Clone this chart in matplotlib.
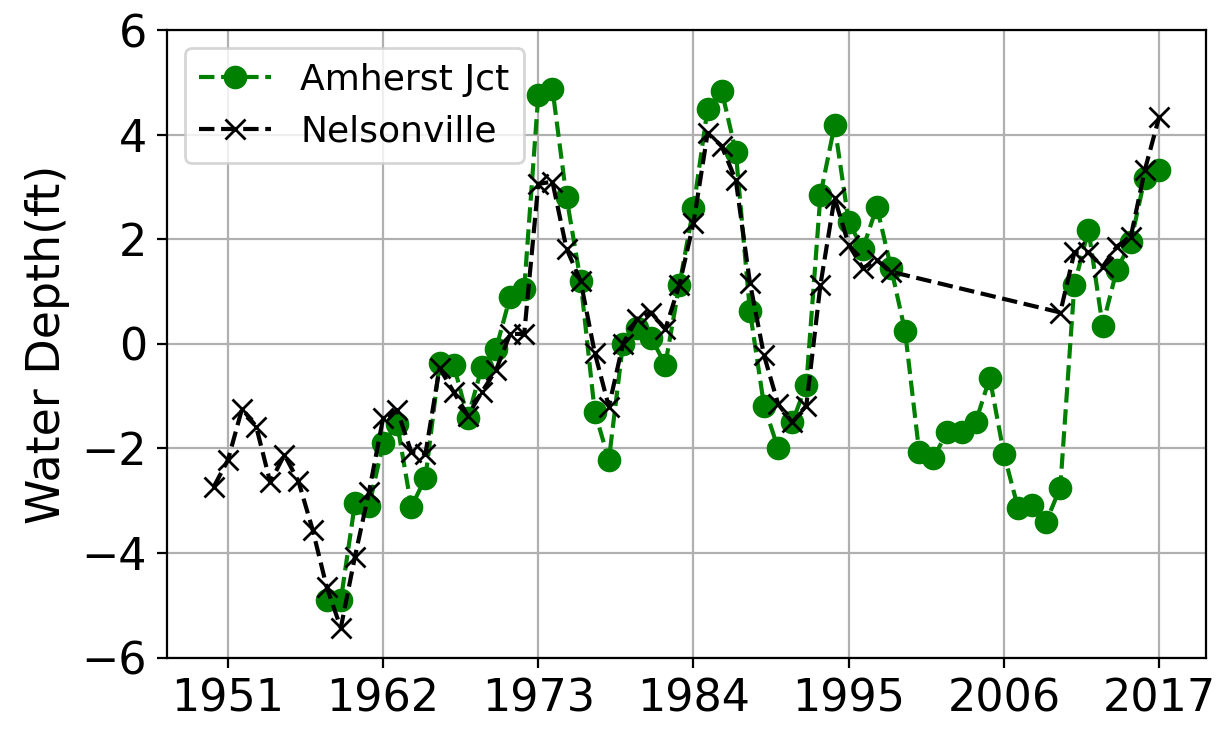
import numpy as np
import matplotlib
matplotlib.use('Agg')
import matplotlib.pyplot as plt

# Amherst Jct water depth (ft), 1958-2017
amherst_years = list(range(1958, 2018))
amherst_depth = [-4.9, -4.9, -3.05, -3.1, -1.9, -1.53, -3.12, -2.56, -0.37, -0.4,
                 -1.42, -0.44, -0.1, 0.9, 1.05, 4.76, 4.88, 2.8, 1.2, -1.3,
                 -2.22, 0.0, 0.3, 0.12, -0.4, 1.13, 2.6, 4.5, 4.84, 3.67,
                 0.63, -1.18, -2.0, -1.5, -0.78, 2.85, 4.18, 2.33, 1.82, 2.62,
                 1.46, 0.24, -2.07, -2.18, -1.68, -1.68, -1.5, -0.65, -2.1, -3.13,
                 -3.08, -3.4, -2.75, 1.13, 2.18, 0.35, 1.41, 1.95, 3.18, 3.33]

# Nelsonville water depth (ft), 1950-1998 and 2010-2017
nelson_years = list(range(1950, 1999)) + list(range(2010, 2018))
nelson_depth = [-2.73, -2.22, -1.24, -1.58, -2.65, -2.12, -2.63, -3.55, -4.65, -5.43,
                -4.07, -2.83, -1.42, -1.27, -2.07, -2.1, -0.46, -0.92, -1.37, -0.92,
                -0.5, 0.19, 0.19, 3.06, 3.1, 1.82, 1.2, -0.17, -1.2, 0.0,
                0.48, 0.6, 0.28, 1.13, 2.31, 4.03, 3.78, 3.13, 1.17, -0.22,
                -1.15, -1.5, -1.18, 1.13, 2.79, 1.9, 1.45, 1.6, 1.38,
                0.6, 1.75, 1.75, 1.47, 1.86, 2.05, 3.33, 4.33]

xtick_years = [1951, 1962, 1973, 1984, 1995, 2006, 2017]

fig, ax = plt.subplots(figsize=(6.08, 3.67), dpi=200)
fig.subplots_adjust(left=0.137, right=0.992, top=0.959, bottom=0.104)

ax.plot(amherst_years, amherst_depth, 'g--o', markersize=7.5, label='Amherst Jct')
ax.plot(nelson_years, nelson_depth, 'k--x', markersize=7.5, label='Nelsonville')

ax.set_xticks(xtick_years)
ax.set_ylim(-6, 6)
ax.set_yticks(np.arange(-6, 7, 2))
ax.tick_params(labelsize=16)
ax.set_ylabel('Water Depth(ft)', fontsize=16.5)
ax.grid(True)
ax.legend(loc='upper left', fontsize=13)

plt.savefig('out.png', dpi=200)
